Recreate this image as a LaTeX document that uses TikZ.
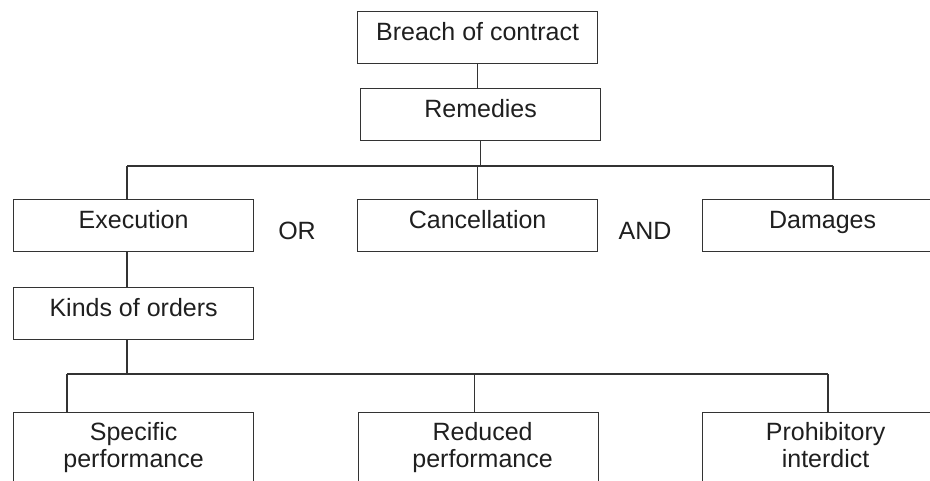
\documentclass[tikz,border=0pt]{standalone}
\usepackage{fontspec}
\setmainfont{Liberation Sans}
\usetikzlibrary{calc}
\begin{document}
\begin{tikzpicture}[x=1pt,y=-1pt,
  font=\fontsize{25}{27}\selectfont,
  box/.style={draw=black!80, line width=1.2pt, minimum width=240pt, minimum height=52pt,
    inner sep=0pt, anchor=north west, text height=18pt, text depth=12pt, text=black!88},
  openbox/.style={draw=black!80, line width=1.2pt, minimum width=240pt, minimum height=110pt,
    inner sep=0pt, anchor=north west},
  word/.style={anchor=base, inner sep=0pt, text=black!88},
  wire/.style={draw=black!80, line width=1.2pt}]
\useasboundingbox (0,0) rectangle (930,481);
\clip (0,0) rectangle (930,481);

% top of the tree
\node[box] (breach) at (357,11) {Breach of contract};
\node[box] (rem) at (360,88) {Remedies};

% first level of remedies
\node[box] (exe) at (13,199) {Execution};
\node[box] (canc) at (357,199) {Cancellation};
\node[box] (dam) at (702,199) {Damages};
\node[word] (or) at (297,240) {OR};
\node[word] (and) at (645,240) {AND};

\node[box] (kinds) at (13,287) {Kinds of orders};

% kinds of orders, boxes running past the lower edge
\node[openbox] (sp) at (13,412) {};
\node[openbox] (red) at (358,412) {};
\node[openbox] (pro) at (702,412) {};
\node[word] (sp1) at ($(sp.north)+(0,28)$) {Specific};
\node[word] (sp2) at ($(sp.north)+(0,55)$) {performance};
\node[word] (red1) at ($(red.north)+(4,28)$) {Reduced};
\node[word] (red2) at ($(red.north)+(4,55)$) {performance};
\node[word] (pro1) at ($(pro.north)+(3,28)$) {Prohibitory};
\node[word] (pro2) at ($(pro.north)+(3,55)$) {interdict};

% bus lines
\coordinate (busAL) at (127,166);
\coordinate (busAR) at (833,166);
\coordinate (busBL) at (67,374);
\coordinate (busBR) at (828,374);

% connectors
\draw[wire] (breach.south) -- (breach.south |- rem.north);
\draw[wire] (busAL) -- (busAR);
\draw[wire] (rem.south) -- (rem.south |- busAL);
\draw[wire] (busAL) -- (busAL |- exe.north);
\draw[wire] (canc.north) -- (canc.north |- busAL);
\draw[wire] (busAR) -- (busAR |- dam.north);
\draw[wire] (busAL |- exe.south) -- (busAL |- kinds.north);
\draw[wire] (busAL |- kinds.south) -- (busAL |- busBL);
\draw[wire] (busBL) -- (busBR);
\draw[wire] (busBL) -- (busBL |- sp.north);
\draw[wire] ($(red.north)+(-4,0)$) -- ($(red.north |- busBL)+(-4,0)$);
\draw[wire] (busBR) -- (busBR |- pro.north);
\end{tikzpicture}
\end{document}
